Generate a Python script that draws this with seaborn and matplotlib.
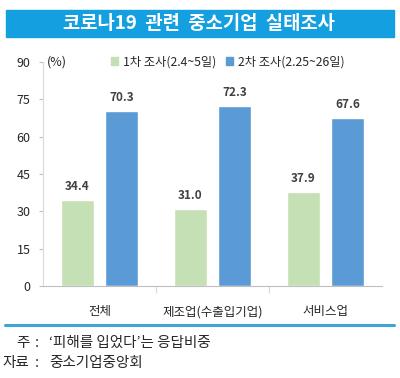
import matplotlib
matplotlib.use("Agg")
import matplotlib.pyplot as plt
import seaborn as sns
import pandas as pd
from matplotlib.patches import Rectangle
from matplotlib.lines import Line2D

categories = ["전체", "제조업(수출입기업)", "서비스업"]
series_names = ["1차 조사(2.4~5일)", "2차 조사(2.25~26일)"]
values_1 = [34.4, 31.0, 37.9]
values_2 = [70.3, 72.3, 67.6]
yticks = [0, 15, 30, 45, 60, 75, 90]
colors = ["#c5e0b4", "#5b9bd5"]

sns.set_theme(style="white")
plt.rcParams["font.family"] = ["Noto Sans CJK KR", "DejaVu Sans"]

df = pd.DataFrame({
    "cat": categories * 2,
    "series": [series_names[0]] * 3 + [series_names[1]] * 3,
    "value": values_1 + values_2,
})

fig = plt.figure(figsize=(4.0, 3.78), dpi=100)
ax = fig.add_axes([43/400, 1 - 286/378, (382-43)/400, (286-62)/378])

sns.barplot(data=df, x="cat", y="value", hue="series", hue_order=series_names,
            palette=colors, width=0.786, gap=0.25, ax=ax, legend=False,
            saturation=1)

for cont in ax.containers:
    ax.bar_label(cont, fmt="%.1f", padding=5, fontsize=8.5, fontweight="bold",
                 color="#404040")

ax.set_ylim(0, 90)
ax.set_xlim(-0.5, 2.5)
ax.set_yticks(yticks)
ax.set_xlabel("")
ax.set_ylabel("")
ax.tick_params(axis="y", length=3, width=0.8, color="#bfbfbf", pad=6,
               labelsize=9, labelcolor="#262626", left=True)
ax.tick_params(axis="x", length=0, pad=14, labelsize=9, labelcolor="#262626")
ax.set_xticks([0.5, 1.5], minor=True)
ax.tick_params(axis="x", which="minor", length=5, width=0.8, color="#d9d9d9", bottom=True)
for s in ["top", "right"]:
    ax.spines[s].set_visible(False)
ax.spines["left"].set_color("#d9d9d9")
ax.spines["bottom"].set_color("#bfbfbf")
ax.spines["left"].set_linewidth(0.8)
ax.spines["bottom"].set_linewidth(0.8)

handles = [Rectangle((0, 0), 1, 1, color=c) for c in colors]
ax.legend(handles, series_names, loc="center", bbox_to_anchor=(0.545, 1.0),
          ncol=2, frameon=False, fontsize=8.8, handlelength=0.6, handleheight=0.6,
          handletextpad=0.4, columnspacing=0.8, labelcolor="#262626")

fig.text(57/400, 1 - 62/378, "(%)", fontsize=9, ha="center", va="center", color="#262626")

# Title banner
fig.patches.append(Rectangle((6/400, 1 - 37/378), 388/400, 27/378,
                             transform=fig.transFigure, color="#139fe0", zorder=0))
fig.text(199/400, 1 - 23.5/378, "코로나19  관련  중소기업  실태조사", fontsize=13.5,
         fontweight="bold", color="white", ha="center", va="center")

# bottom line
fig.add_artist(Line2D([5/400, 394/400], [1 - 325/378, 1 - 325/378],
                      transform=fig.transFigure, color="#3fa3d4", linewidth=2.2))

# footnotes
fs = 10.5
fig.text(16/400, 1 - 343/378, "주", fontsize=fs, ha="left", va="center", color="#262626")
fig.text(37/400, 1 - 343/378, ":", fontsize=fs, ha="center", va="center", color="#262626")
fig.text(49/400, 1 - 343/378, "‘피해를 입었다’는 응답비중", fontsize=fs, ha="left",
         va="center", color="#262626")
fig.text(2/400, 1 - 363/378, "자료", fontsize=fs, ha="left", va="center", color="#262626")
fig.text(37/400, 1 - 363/378, ":", fontsize=fs, ha="center", va="center", color="#262626")
fig.text(49/400, 1 - 363/378, "중소기업중앙회", fontsize=fs, ha="left",
         va="center", color="#262626")

fig.savefig("out.png", dpi=100)
